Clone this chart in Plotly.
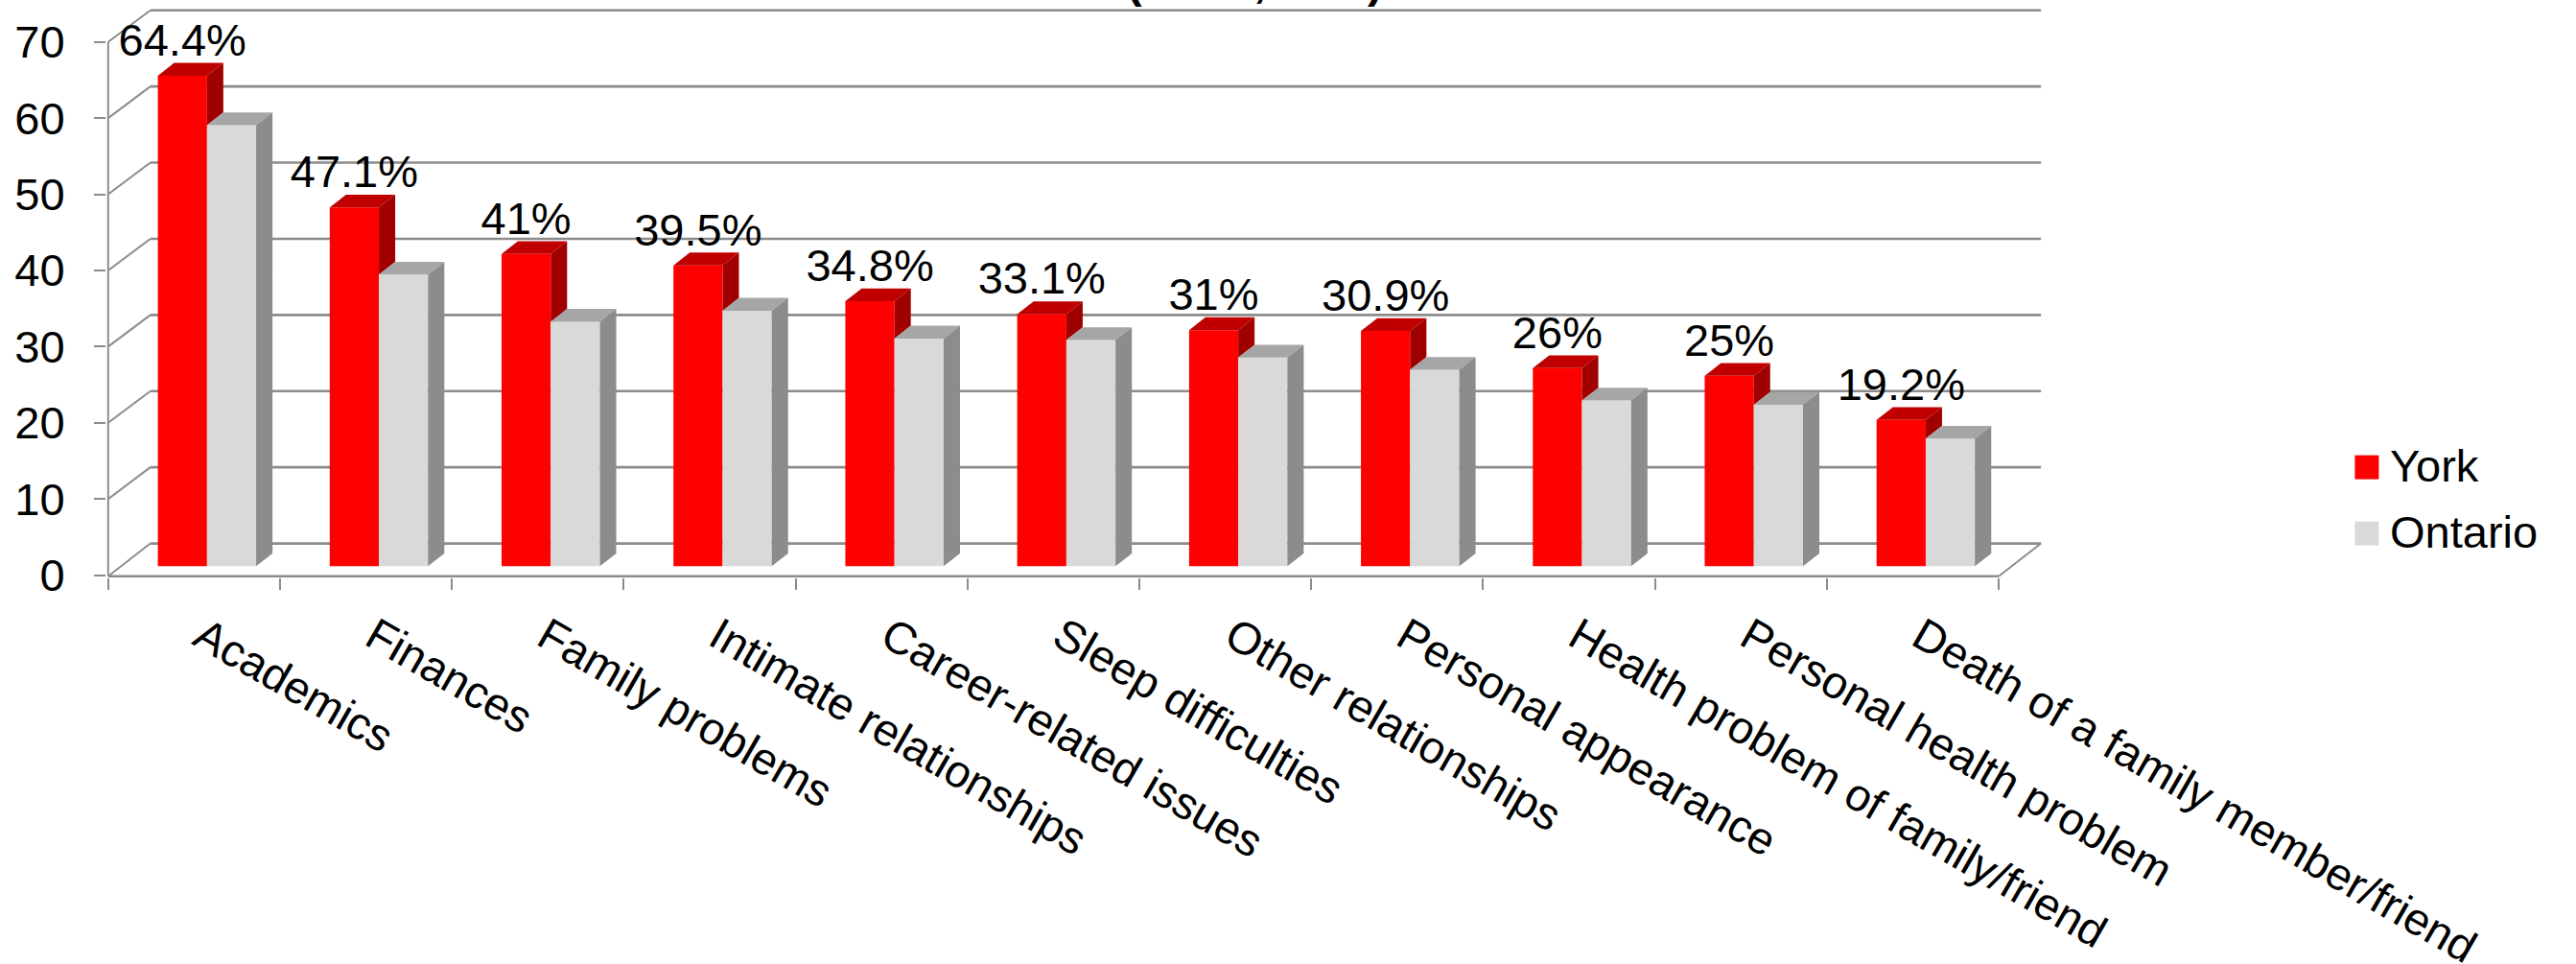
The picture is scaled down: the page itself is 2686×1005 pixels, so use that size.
import plotly.graph_objects as go

categories = ["Academics", "Finances", "Family problems", "Intimate relationships",
              "Career-related issues", "Sleep difficulties", "Other relationships",
              "Personal appearance", "Health problem of family/friend",
              "Personal health problem", "Death of a family member/friend"]
york = [64.4, 47.1, 41, 39.5, 34.8, 33.1, 31, 30.9, 26, 25, 19.2]
ontario = [57.9, 38.3, 32.1, 33.55, 29.9, 29.7, 27.4, 25.8, 21.75, 21.2, 16.75]
series_names = ["York", "Ontario"]
y_ticks = [0, 10, 20, 30, 40, 50, 60, 70]
title_marks = ["(", ",", ")"]

FONT = "Liberation Sans"
FS = 47
GRID = "#8c8c8c"
RED, RED_TOP, RED_SIDE = "#ff0000", "#c00000", "#a00000"
GREY, GREY_TOP, GREY_SIDE = "#d9d9d9", "#a6a6a6", "#8c8c8c"

# chart geometry in axis units
WALL_DX, WALL_DY = 0.2455, 4.16
BAR_DX, BAR_DY = 0.095, 1.675
BAR_W, BAR_L, BAR_BASE = 0.286, -0.211, 1.17
XMIN, XMAX = -0.51, 10.756
YMIN, YMAX = -0.3, 74.5
FLOOR = -0.15
LABEL_DROP = 0.5
TICK_SHIFT = 0.045

n = len(categories)
idx = list(range(n))


def polys(rects):
    xs, ys = [], []
    for pts in rects:
        for p in pts + [pts[0]]:
            xs.append(p[0])
            ys.append(p[1])
        xs.append(None)
        ys.append(None)
    return xs, ys


def face(rects, color):
    xs, ys = polys(rects)
    return go.Scatter(x=xs, y=ys, mode="none", fill="toself", fillcolor=color,
                      hoverinfo="skip", showlegend=False)


fig = go.Figure()
fig.add_trace(go.Bar(name=series_names[0], x=idx, y=york, base=BAR_BASE, width=BAR_W,
                     offset=BAR_L, marker=dict(color=RED, line=dict(width=0)), showlegend=False))
fig.add_trace(go.Bar(name=series_names[1], x=idx, y=ontario, base=BAR_BASE, width=BAR_W,
                     offset=BAR_L + BAR_W, marker=dict(color=GREY, line=dict(width=0)), showlegend=False))

y_top, y_side, o_top, o_side = [], [], [], []
for i in idx:
    a, b, c = i + BAR_L, i + BAR_L + BAR_W, i + BAR_L + 2 * BAR_W
    ty, to = york[i] + BAR_BASE, ontario[i] + BAR_BASE
    y_top.append([(a, ty), (b, ty), (b + BAR_DX, ty + BAR_DY), (a + BAR_DX, ty + BAR_DY)])
    y_side.append([(b, ty), (b + BAR_DX, ty + BAR_DY), (b + BAR_DX, to + BAR_DY), (b, to)])
    o_top.append([(b, to), (c, to), (c + BAR_DX, to + BAR_DY), (b + BAR_DX, to + BAR_DY)])
    o_side.append([(c, to), (c + BAR_DX, to + BAR_DY), (c + BAR_DX, BAR_BASE + BAR_DY), (c, BAR_BASE)])
fig.add_trace(face(y_top, RED_TOP))
fig.add_trace(face(y_side, RED_SIDE))
fig.add_trace(face(o_top, GREY_TOP))
fig.add_trace(face(o_side, GREY_SIDE))

fig.add_trace(go.Scatter(
    x=[i + BAR_L + BAR_W / 2 for i in idx],
    y=[v + BAR_BASE + BAR_DY - LABEL_DROP for v in york],
    mode="text", text=[f"{v:g}%" for v in york], textposition="top center",
    textfont=dict(family=FONT, size=FS, color="black"),
    cliponaxis=False, hoverinfo="skip", showlegend=False))

shapes = []


def seg(x0, y0, x1, y1, w=2.5, color=GRID):
    shapes.append(dict(type="line", xref="x", yref="y", x0=x0, y0=y0, x1=x1, y1=y1,
                       layer="below", line=dict(color=color, width=w)))


for t in y_ticks:
    if t:
        seg(-0.5, t, -0.5 + WALL_DX, t + WALL_DY, 2)
    else:
        seg(-0.5, FLOOR, -0.5 + WALL_DX, t + WALL_DY, 2)
    seg(-0.5 + WALL_DX, t + WALL_DY, n - 0.5 + WALL_DX, t + WALL_DY, 2.6)
seg(-0.5, FLOOR, n - 0.5, FLOOR, 2.6)
seg(n - 0.5, FLOOR, n - 0.5 + WALL_DX, WALL_DY, 2)
seg(-0.5, FLOOR, -0.5, y_ticks[-1], 2)

# legend, drawn to the picture's swatch size
W, H = 2686, 1005
for name, col, py0 in zip(series_names, [RED, GREY], [475, 544]):
    shapes.append(dict(type="rect", xref="paper", yref="paper", layer="above",
                       x0=(2455 - 110.7) / 2018.9, x1=(2480 - 110.7) / 2018.9,
                       y0=(602.4 - py0) / 594, y1=(602.4 - py0 - 25) / 594,
                       fillcolor=col, line=dict(width=0)))

annotations = []
for name, pyc in zip(series_names, [485.5, 554.7]):
    annotations.append(dict(text=name, xref="paper", yref="paper", showarrow=False,
                            x=(2490 - 110.7) / 2018.9, xanchor="left",
                            y=(602.4 - pyc) / 594, yanchor="middle",
                            font=dict(family=FONT, size=FS, color="black")))
for mark, pxx in zip(title_marks, [1183, 1313, 1434]):
    annotations.append(dict(text=f"<b>{mark}</b>", xref="paper", yref="paper", showarrow=False,
                            x=(pxx - 110.7) / 2018.9, xanchor="center",
                            y=(602.4 + 5) / 594, yanchor="bottom", yshift=-14,
                            font=dict(family=FONT, size=FS, color="black")))

fig.update_layout(
    width=W, height=H, autosize=False,
    margin=dict(l=110.7, r=556.4, t=8.4, b=402.6, pad=0),
    paper_bgcolor="white", plot_bgcolor="white",
    barmode="overlay", showlegend=False,
    shapes=shapes, annotations=annotations,
    xaxis=dict(range=[XMIN, XMAX], tickmode="array",
               tickvals=[i + TICK_SHIFT for i in idx], ticktext=categories,
               tickangle=30, ticks="", showgrid=False, zeroline=False, showline=False,
               ticklabelstandoff=24, ticklabeloverflow="allow", automargin=False,
               tickfont=dict(family=FONT, size=FS, color="black"),
               minor=dict(tickmode="array", tickvals=[i - 0.5 for i in range(n + 1)],
                          ticks="outside", ticklen=12, tickwidth=2, tickcolor=GRID, showgrid=False)),
    yaxis=dict(range=[YMIN, YMAX], tickmode="array", tickvals=y_ticks,
               ticks="outside", ticklen=12, tickwidth=2, tickcolor=GRID,
               showgrid=False, zeroline=False, showline=False, automargin=False,
               ticklabelstandoff=21,
               tickfont=dict(family=FONT, size=FS, color="black")),
)

fig.write_html("out.html", config={"displayModeBar": False}, post_script=(
    "document.body.style.margin='0';"
    "document.documentElement.style.overflow='hidden';"
    "document.body.style.overflow='hidden';"))
